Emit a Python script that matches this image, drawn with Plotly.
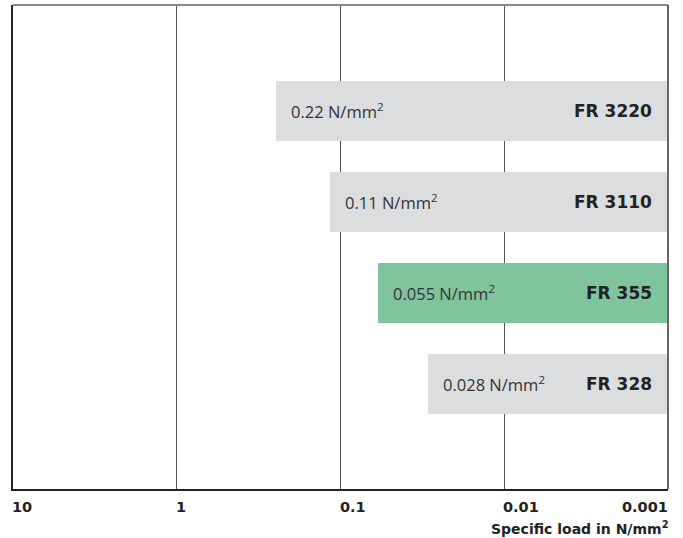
import math
import plotly.graph_objects as go

# Data (bottom to top)
products = ["FR 328", "FR 355", "FR 3110", "FR 3220"]
load_values = [0.0292, 0.059, 0.116, 0.248]          # bar start positions
load_labels = ["0.028", "0.055", "0.11", "0.22"]
bar_colors = ["#dcdddf", "#80c49e", "#dcdddf", "#dcdddf"]
tick_values = [10, 1, 0.1, 0.01, 0.001]
tick_labels = ["10", "1", "0.1", "0.01", "0.001"]

fig = go.Figure()
fig.add_trace(go.Bar(
    y=products, x=load_values, orientation="h",
    marker=dict(color=bar_colors, line=dict(width=0)),
    width=0.67, hoverinfo="skip", showlegend=False,
))

annotations = []
for p, v, lab in zip(products, load_values, load_labels):
    annotations.append(dict(
        x=math.log10(v), y=p, xref="x", yref="y", text=f"{lab} N/mm<sup>2</sup>",
        showarrow=False, xanchor="left", xshift=13,
        font=dict(family="Open Sans", size=16.5, color="#333333")))
    annotations.append(dict(
        x=math.log10(tick_values[-1]), y=p, xref="x", yref="y", text=f"<b>{p}</b>",
        showarrow=False, xanchor="right", xshift=-14,
        font=dict(family="DejaVu Sans", size=17, color="#222222")))

for i, (tv, tl) in enumerate(zip(tick_values, tick_labels)):
    last = i == len(tick_values) - 1
    annotations.append(dict(
        x=math.log10(tv), y=0, xref="x", yref="paper", text=f"<b>{tl}</b>",
        showarrow=False, xanchor="right" if last else "left", yanchor="top",
        yshift=-8, xshift=2 if last else -3,
        font=dict(family="DejaVu Sans", size=14.5, color="#222222")))

annotations.append(dict(
    x=1, y=0, xref="paper", yref="paper", text="<b>Specific load in N/mm<sup>2</sup></b>",
    showarrow=False, xanchor="right", yanchor="top", yshift=-28, xshift=2,
    font=dict(family="DejaVu Sans", size=14, color="#222222")))

fig.update_layout(
    width=683, height=538,
    margin=dict(l=13, r=15, t=5, b=49),
    paper_bgcolor="white", plot_bgcolor="white",
    bargap=0,
    annotations=annotations,
    shapes=[
        dict(type="line", xref="paper", yref="paper", x0=0, x1=1, y0=1, y1=1,
             line=dict(color="#888888", width=2)),
        dict(type="line", xref="paper", yref="paper", x0=1, x1=1, y0=0, y1=1,
             line=dict(color="#666666", width=2)),
    ],
)
fig.update_xaxes(
    type="log", range=[1, -3], tickvals=tick_values, showticklabels=False,
    showgrid=True, gridcolor="#555555", gridwidth=1, zeroline=False,
    showline=True, linecolor="#222222", linewidth=2, ticks="",
)
fig.update_yaxes(
    type="category", categoryorder="array", categoryarray=products,
    range=[-1.154, 4.165], showticklabels=False, showgrid=False, zeroline=False,
    showline=True, linecolor="#222222", linewidth=2, ticks="",
)

fig.write_html("out.html", config={"displayModeBar": False},
               post_script="document.body.style.margin='0';document.body.style.overflow='hidden';")
